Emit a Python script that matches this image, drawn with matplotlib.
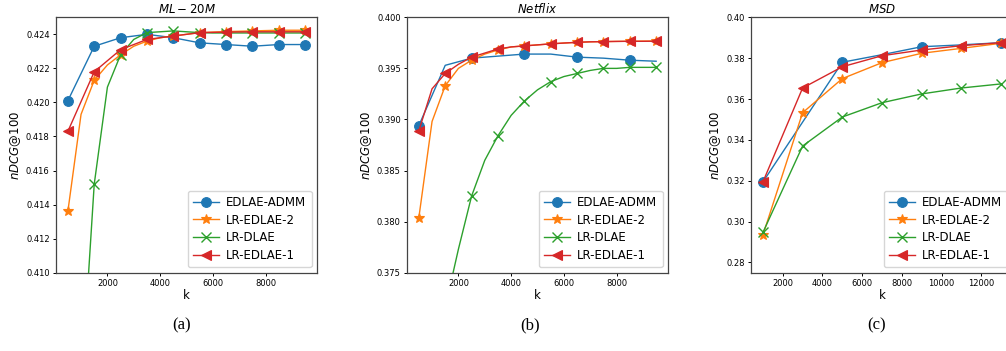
import matplotlib
matplotlib.use("Agg")
import matplotlib.pyplot as plt

# ---- data ----
labels = ["EDLAE-ADMM", "LR-EDLAE-2", "LR-DLAE", "LR-EDLAE-1"]

# ML-20M
ml_k_1000 = [500, 1500, 2500, 3500, 4500, 5500, 6500, 7500, 8500, 9500]
ml_k_500 = [500, 1000, 1500, 2000, 2500, 3000, 3500, 4000, 4500, 5000,
            5500, 6000, 6500, 7000, 7500, 8000, 8500, 9000, 9500]
ml_admm = [0.4201, 0.4233, 0.4238, 0.4240, 0.4238, 0.4235, 0.4234, 0.4233, 0.4234, 0.4234]
ml_edlae2 = [0.4136, 0.4193, 0.4213, 0.4222, 0.4228, 0.4233, 0.4236, 0.4238, 0.4239, 0.4240,
             0.4241, 0.42413, 0.42416, 0.42418, 0.4242, 0.42422, 0.42424, 0.42424, 0.42424]
ml_dlae = [0.3900, 0.4030, 0.4152, 0.4209, 0.4228, 0.4237, 0.4241, 0.42415, 0.4242, 0.42415,
           0.4241, 0.42408, 0.42408, 0.42408, 0.42408, 0.42408, 0.42408, 0.42408, 0.42408]
ml_edlae1 = [0.4183, 0.4218, 0.4231, 0.4237, 0.4239, 0.4241, 0.42413, 0.42415, 0.42415, 0.42415]

# Netflix
nf_k_1000 = [500, 1500, 2500, 3500, 4500, 5500, 6500, 7500, 8500, 9500]
nf_k_500 = ml_k_500
nf_admm = [0.3894, 0.3953, 0.3960, 0.3962, 0.3964, 0.3964, 0.3961, 0.3960, 0.3958, 0.3957]
nf_edlae2 = [0.3804, 0.3898, 0.3933, 0.3950, 0.3958, 0.3964, 0.3968, 0.3971, 0.3972, 0.3973,
             0.3974, 0.39748, 0.39755, 0.3976, 0.39762, 0.39764, 0.39766, 0.39767, 0.39768]
nf_dlae = [0.3450, 0.3600, 0.3716, 0.3773, 0.3825, 0.3860, 0.3884, 0.3904, 0.3918, 0.3929,
           0.3937, 0.3942, 0.3945, 0.3948, 0.3950, 0.3950, 0.3951, 0.3951, 0.3951]
nf_edlae1 = [0.3889, 0.3930, 0.3945, 0.3954, 0.3961, 0.3965, 0.3969, 0.3971, 0.3972, 0.3973,
             0.3974, 0.39748, 0.39755, 0.3976, 0.39762, 0.39764, 0.39765, 0.39765, 0.39766]

# MSD
msd_k = [1000, 3000, 5000, 7000, 9000, 11000, 13000]
msd_admm = [0.3194, 0.3487, 0.3780, 0.3817, 0.3856, 0.3865, 0.3876]
msd_edlae2 = [0.2934, 0.3533, 0.3700, 0.3778, 0.3824, 0.3848, 0.3873]
msd_dlae = [0.2947, 0.3370, 0.3512, 0.3582, 0.3625, 0.3654, 0.3674]
msd_edlae1 = [0.3194, 0.3654, 0.3758, 0.3812, 0.3840, 0.3861, 0.3876]

# ---- figure ----
fig = plt.figure(figsize=(10.06, 3.51), dpi=100)
W, H = 1006.0, 351.0
bot, top = (H - 272.7) / H, (H - 17.3) / H
ax1 = fig.add_axes([56 / W, bot, 261 / W, top - bot])
ax2 = fig.add_axes([407 / W, bot, 261 / W, top - bot])
ax3 = fig.add_axes([751 / W, bot, 262 / W, top - bot])

ms = 7
lw = 1.0
styles = [("o", "C0"), ("*", "C1"), ("x", "C2"), ("<", "C3")]


def draw(ax, series, every):
    for (x, y), (m, c), lab, me in zip(series, styles, labels, every):
        ax.plot(x, y, marker=m, color=c, label=lab, lw=lw, ms=ms, markevery=me,
                mew=1.0 if m == "x" else 0.8)


draw(ax1, [(ml_k_1000, ml_admm), (ml_k_500, ml_edlae2), (ml_k_500, ml_dlae),
           (ml_k_1000, ml_edlae1)], [1, 2, 2, 1])
ax1.set_title("$ML-20M$", fontsize=8.5, pad=3)
ax1.set_ylim(0.410, 0.425)
ax1.set_xlim(50, 9950)

draw(ax2, [(nf_k_1000, nf_admm), (nf_k_500, nf_edlae2), (nf_k_500, nf_dlae),
           (nf_k_500, nf_edlae1)], [2, 2, 2, 2])
ax2.set_title("$Netflix$", fontsize=8.5, pad=3)
ax2.set_ylim(0.375, 0.400)
ax2.set_xlim(50, 9950)

draw(ax3, [(msd_k, msd_admm), (msd_k, msd_edlae2), (msd_k, msd_dlae),
           (msd_k, msd_edlae1)], [2, 1, 1, 1])
ax3.set_title("$MSD$", fontsize=8.5, pad=3)
ax3.set_ylim(0.275, 0.400)
ax3.set_xlim(400, 13600)

for ax in (ax1, ax2, ax3):
    ax.set_xlabel("k", fontsize=8.5, labelpad=1)
    ax.set_ylabel("$nDCG$@100", fontsize=8.5, labelpad=2)
    ax.tick_params(labelsize=6, length=2.5, width=0.7, pad=2)
    for s in ax.spines.values():
        s.set_linewidth(0.9)
        s.set_color("#444444")
    ax.legend(loc="lower right", fontsize=8.5, labelspacing=0.4, handlelength=2.2,
              borderpad=0.45, handletextpad=0.6, borderaxespad=0.45)

for x, t in [(182, "(a)"), (530, "(b)"), (877, "(c)")]:
    fig.text(x / W, (H - 325) / H, t, ha="center", va="center", fontsize=12,
             family="Liberation Serif")

fig.savefig("out.png", dpi=100)
